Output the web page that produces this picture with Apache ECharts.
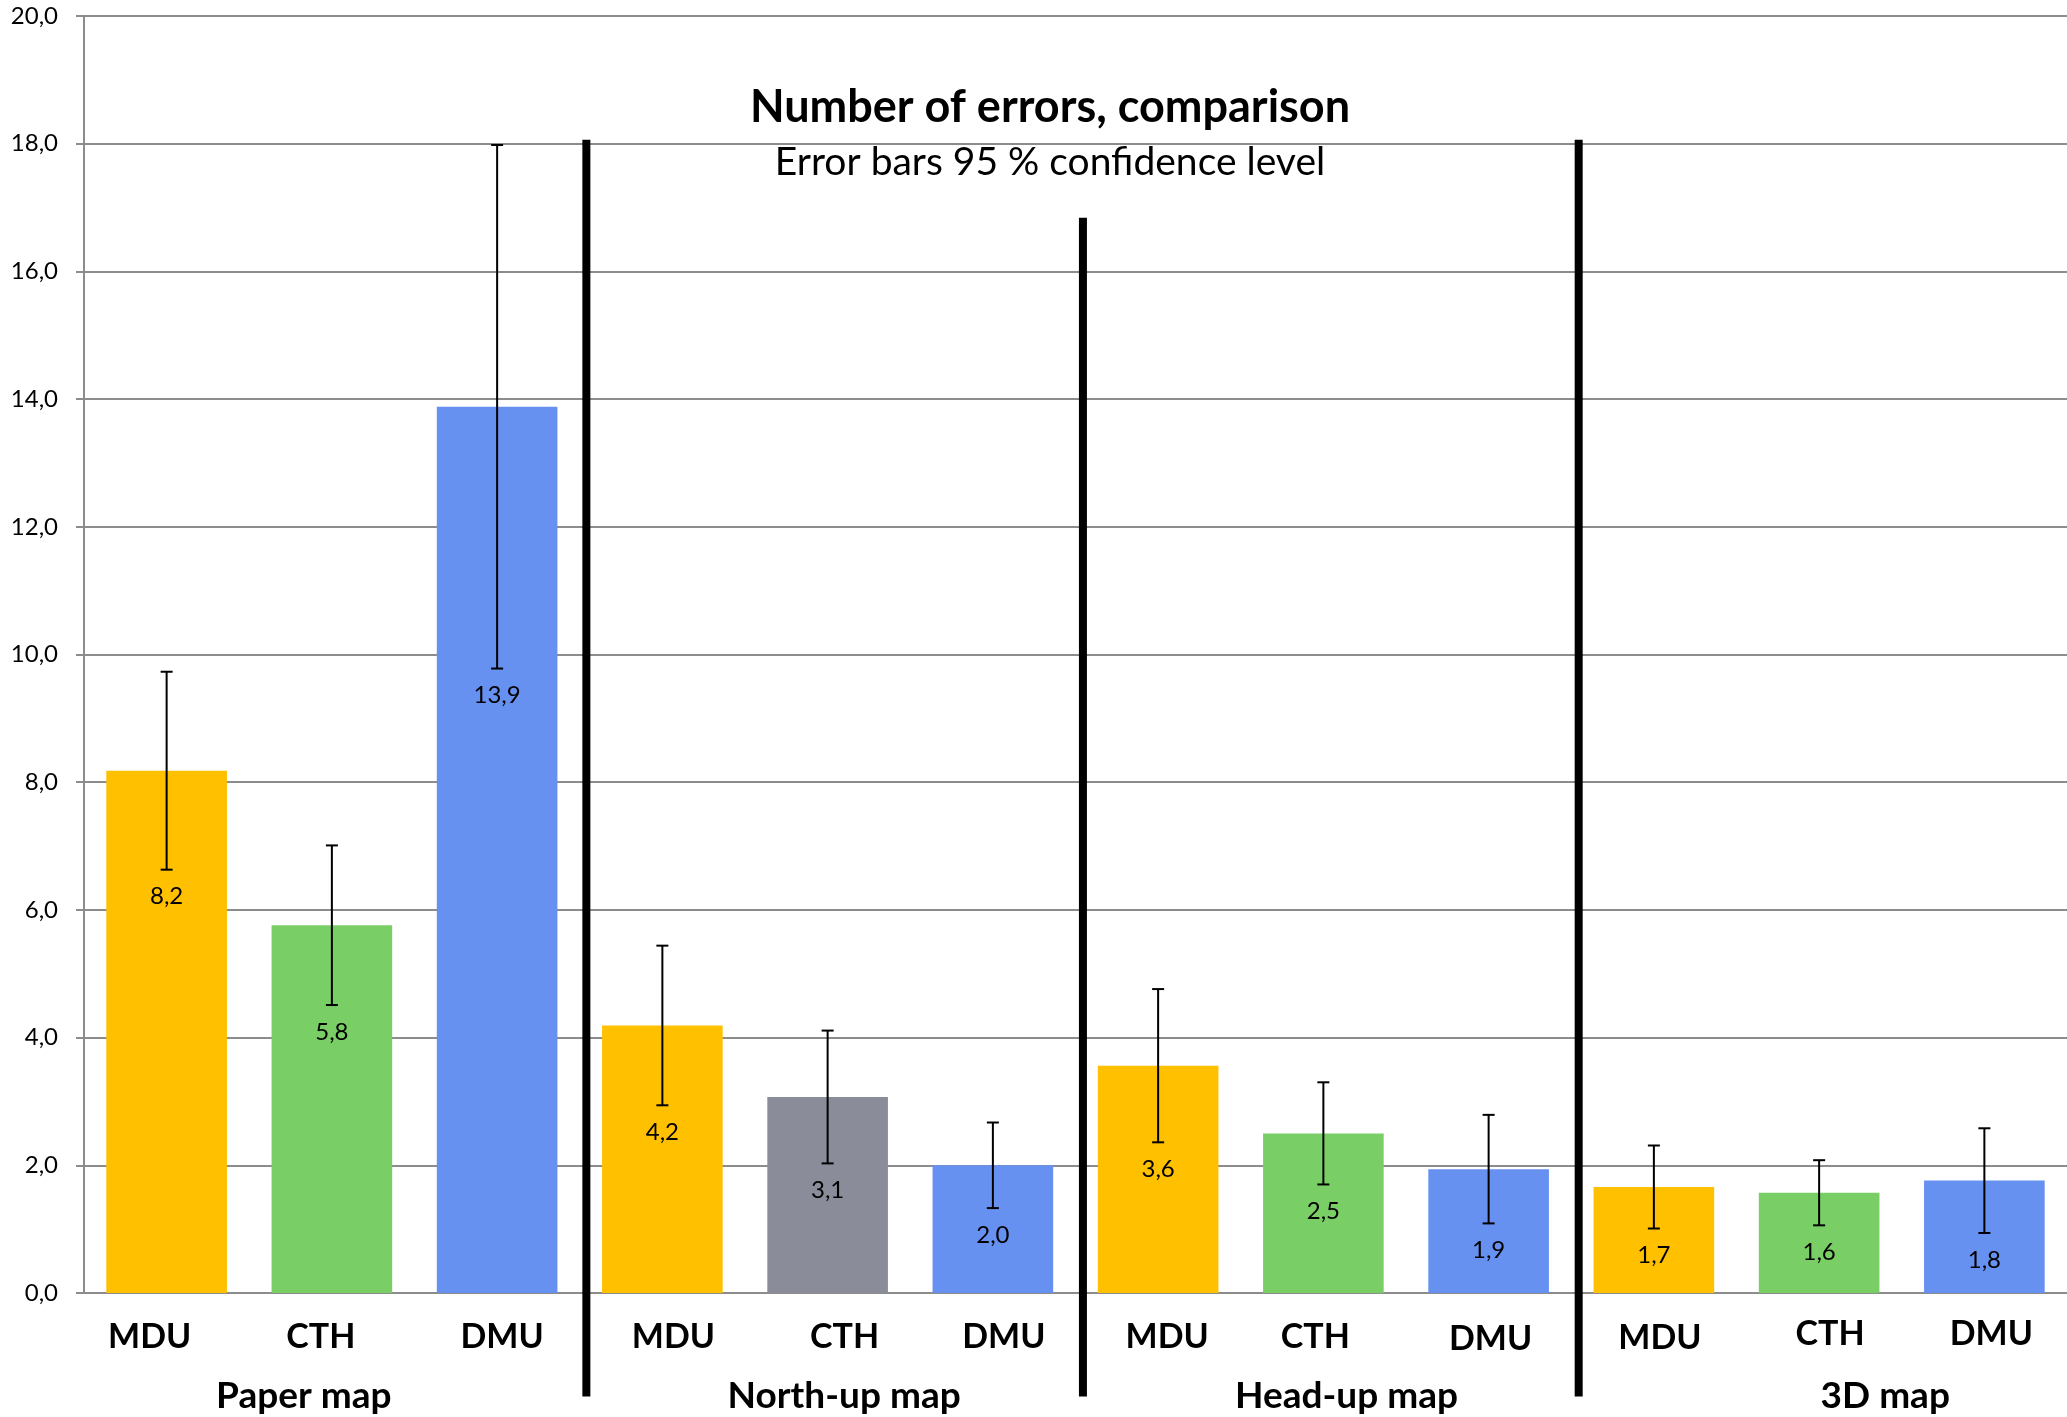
<!DOCTYPE html>
<html>
<head>
<meta charset="utf-8">
<script src="https://cdn.jsdelivr.net/npm/echarts@6/dist/echarts.min.js"></script>
<style>
  html, body { margin: 0; padding: 0; background: #fff; }
  #chart { width: 2067px; height: 1417px; }
</style>
</head>
<body>
<div id="chart"></div>
<script>
// data
const categories = ['MDU', 'CTH', 'DMU', 'MDU', 'CTH', 'DMU', 'MDU', 'CTH', 'DMU', 'MDU', 'CTH', 'DMU'];
const means = [8.18, 5.76, 13.88, 4.19, 3.07, 2.0, 3.56, 2.5, 1.94, 1.66, 1.57, 1.76];
const ci95 = [1.55, 1.25, 4.10, 1.25, 1.04, 0.67, 1.20, 0.80, 0.85, 0.65, 0.51, 0.82];
const barColors = ['#FFC000', '#79CF66', '#6791F1', '#FFC000', '#8A8C99', '#6791F1',
                   '#FFC000', '#79CF66', '#6791F1', '#FFC000', '#79CF66', '#6791F1'];
const groups = ['Paper map', 'North-up map', 'Head-up map', '3D map'];
const groupCenters = [1.33, 4.60, 7.64, 10.90];   // in category units
const dividerX = [3.04, 6.045, 9.045];
const dividerTop = [18.06, 16.84, 18.06];
const dividerBottom = -1.62;
const groupLabelY = -1.61;
// the category labels in the original are hand placed, a bit off centre (px)
const labelShiftX = [-17, -11, 5, 11, 17, 11, 9, -8, 2, 6, 11, 7];
const labelShiftY = [0, 0, 0, 0, 0, 0, 0, 0, 4, 2, -5, -5];

const fmt = v => v.toFixed(1).replace('.', ',');
const FONT = 'Lato, "Open Sans", sans-serif';
const GRID_GRAY = '#8c8c8c';

const chart = echarts.init(document.getElementById('chart'));

// rich styles so each category label can sit where it sits in the original
const catRich = {};
labelShiftX.forEach((dx, i) => {
  catRich['c' + i] = {
    fontFamily: FONT, fontSize: 34, fontWeight: 'bold', color: '#000',
    lineHeight: 34,
    padding: [6 + labelShiftY[i], dx < 0 ? -2 * dx : 0, 0, dx > 0 ? 2 * dx : 0]
  };
});

const option = {
  animation: false,
  backgroundColor: '#fff',
  title: [
    {
      text: 'Number of errors, comparison',
      left: 1045, top: 80, textAlign: 'center',
      textStyle: { fontFamily: FONT, fontSize: 45, fontWeight: 'bold', color: '#000' }
    },
    {
      text: 'Error bars 95 % confidence level',
      left: 1045, top: 138, textAlign: 'center',
      textStyle: { fontFamily: FONT, fontSize: 39, fontWeight: 'normal', color: '#000' }
    }
  ],
  grid: { left: 84, right: 0, top: 16, bottom: 124, containLabel: false },
  xAxis: [
    {
      type: 'category',
      data: categories,
      axisLine: { lineStyle: { color: GRID_GRAY, width: 2 } },
      axisTick: { show: false },
      axisLabel: {
        margin: 24, interval: 0,
        formatter: (v, i) => '{c' + i + '|' + v + '}',
        rich: catRich
      },
      splitLine: { show: false }
    },
    { type: 'value', min: 0, max: 12, show: false }
  ],
  yAxis: {
    type: 'value',
    min: 0, max: 20, interval: 2,
    axisLine: { show: true, lineStyle: { color: GRID_GRAY, width: 2 } },
    axisTick: { show: true, length: 8, lineStyle: { color: GRID_GRAY, width: 2 } },
    axisLabel: { fontFamily: FONT, fontSize: 24, color: '#000', margin: 26, formatter: fmt },
    splitLine: { lineStyle: { color: GRID_GRAY, width: 2 } }
  },
  series: [
    {
      type: 'bar',
      xAxisIndex: 0,
      barWidth: '73%',
      data: means.map((v, i) => ({ value: v, itemStyle: { color: barColors[i] } })),
      z: 2
    },
    {
      // error bars + value labels under the lower whisker
      type: 'custom',
      xAxisIndex: 0,
      data: means.map((v, i) => [i, v, ci95[i]]),
      z: 5,
      renderItem: (params, api) => {
        const i = api.value(0), m = api.value(1), e = api.value(2);
        const hi = api.coord([i, m + e]);
        const lo = api.coord([i, m - e]);
        const cap = 6;
        const ls = { stroke: '#000', lineWidth: 2 };
        return {
          type: 'group',
          children: [
            { type: 'line', shape: { x1: hi[0], y1: hi[1], x2: lo[0], y2: lo[1] }, style: ls },
            { type: 'line', shape: { x1: hi[0] - cap, y1: hi[1], x2: hi[0] + cap, y2: hi[1] }, style: ls },
            { type: 'line', shape: { x1: lo[0] - cap, y1: lo[1], x2: lo[0] + cap, y2: lo[1] }, style: ls },
            {
              type: 'text', x: lo[0], y: lo[1] + 27,
              style: {
                text: fmt(m), fill: '#000', align: 'center', verticalAlign: 'middle',
                fontFamily: FONT, fontSize: 24
              }
            }
          ]
        };
      }
    },
    {
      // thick group dividers
      type: 'custom',
      xAxisIndex: 1,
      clip: false,
      data: dividerX.map((x, i) => [x, dividerTop[i], dividerBottom]),
      z: 10,
      renderItem: (params, api) => {
        const a = api.coord([api.value(0), api.value(1)]);
        const b = api.coord([api.value(0), api.value(2)]);
        return {
          type: 'line',
          shape: { x1: a[0], y1: a[1], x2: b[0], y2: b[1] },
          style: { stroke: '#000', lineWidth: 8 }
        };
      }
    },
    {
      // group names under the category labels
      type: 'custom',
      xAxisIndex: 1,
      clip: false,
      data: groups.map((g, i) => [groupCenters[i], groupLabelY]),
      z: 10,
      renderItem: (params, api) => {
        const p = api.coord([api.value(0), api.value(1)]);
        return {
          type: 'text', x: p[0], y: p[1],
          style: {
            text: groups[params.dataIndex], fill: '#000', align: 'center', verticalAlign: 'middle',
            fontFamily: FONT, fontSize: 37, fontWeight: 'bold'
          }
        };
      }
    }
  ]
};

chart.setOption(option);
</script>
</body>
</html>
